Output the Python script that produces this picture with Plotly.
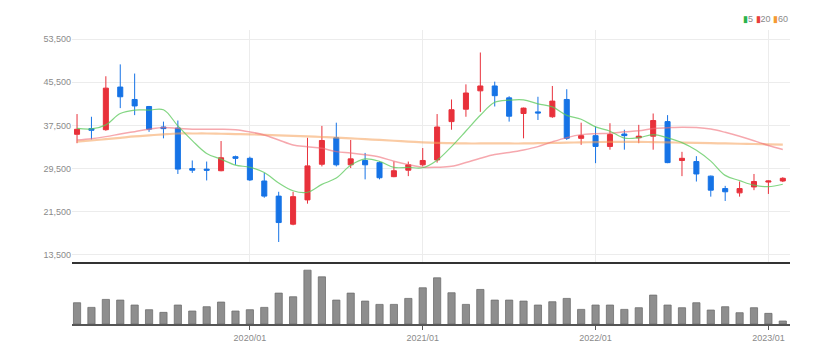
import plotly.graph_objects as go

months = ["2019/%02d" % m for m in range(1, 13)] + ["2020/%02d" % m for m in range(1, 13)] + \
         ["2021/%02d" % m for m in range(1, 13)] + ["2022/%02d" % m for m in range(1, 13)] + ["2023/01", "2023/02"]

opens = [35850, 36900, 36700, 44600, 42300, 41000, 37200, 37000, 29500, 29400, 29100, 31700,
         31400, 27200, 24400, 19200, 23700, 30300, 35200, 30200, 31000, 30600, 28000, 29200,
         30200, 31100, 38200, 40500, 43900, 44800, 42600, 39700, 40000, 39100, 42300, 35100,
         35600, 33600, 35900, 35200, 35500, 38200, 31000, 30800, 28100, 25800, 25000, 26100,
         27000, 27200]
highs = [39600, 39100, 46600, 48800, 47100, 41100, 38200, 38400, 31000, 30800, 34600, 31900,
         31700, 28700, 25200, 25200, 35200, 37400, 38000, 34800, 32400, 30800, 30800, 30800,
         33300, 39600, 42300, 45100, 51000, 45600, 42900, 40800, 42800, 44800, 44200, 38000,
         37300, 37900, 36700, 37600, 39700, 39400, 32600, 31800, 28200, 26300, 27100, 28500,
         27300, 27900]
lows = [34200, 34900, 36500, 40700, 39400, 36300, 35100, 28500, 28700, 27300, 29000, 30200,
        27200, 24100, 15900, 19000, 23000, 29900, 29900, 29600, 27500, 27500, 27900, 28100,
        29900, 30600, 36700, 39100, 40000, 41000, 38200, 35100, 38500, 38900, 34800, 33900,
        30500, 33000, 33000, 34200, 33000, 30500, 28100, 27100, 24300, 23500, 24300, 25500,
        24800, 27000]
closes = [36780, 36600, 44400, 42800, 41100, 36800, 36900, 29400, 29200, 29200, 31500, 31400,
          27400, 24400, 19500, 24300, 30000, 34700, 30200, 31300, 30200, 27800, 29100, 30200,
          31000, 37200, 40400, 43500, 44800, 43000, 39200, 40700, 39800, 42000, 35100, 35600,
          33600, 35800, 35600, 35500, 38400, 30600, 31400, 28500, 25500, 25200, 25800, 27100,
          27200, 27700]

ma5 = [36960, 36840, 37600, 39700, 40340, 40340, 40400, 37400, 34680, 32300, 31240, 30140,
       29740, 28780, 26840, 25400, 25120, 26580, 27740, 30100, 31280, 30840, 29720, 29720,
       29660, 31060, 33580, 36460, 39380, 41780, 42180, 42240, 41500, 40940, 39360, 38640,
       37220, 36420, 35140, 35220, 35780, 35180, 34300, 32880, 30880, 28240, 27280, 26420,
       26160, 26600]
ma20 = [34800, 35040, 35420, 35900, 36340, 36780, 37090, 36960, 36800, 36800, 36800, 36700,
        36300, 35730, 34800, 33870, 33560, 33250, 32640, 32390, 32070, 31630, 30860, 30230,
        29730, 29750, 29920, 30630, 31410, 32100, 32480, 32950, 33570, 34450, 35230, 35790,
        35970, 36030, 36300, 36510, 36920, 37060, 37170, 37090, 36810, 36210, 35480, 34660,
        33780, 33020]
ma60 = [34480, 34700, 34950, 35200, 35450, 35650, 35850, 36000, 36000, 36000, 35950, 35900,
        35850, 35750, 35650, 35550, 35450, 35350, 35250, 35100, 34950, 34800, 34650, 34500,
        34350, 34250, 34200, 34150, 34150, 34150, 34150, 34150, 34200, 34250, 34300, 34350,
        34400, 34450, 34450, 34450, 34400, 34350, 34300, 34250, 34200, 34150, 34100, 34050,
        34000, 33950]

volumes = [640, 500, 740, 720, 570, 430, 350, 570, 390, 520, 660, 390,
           430, 500, 930, 820, 1620, 1420, 720, 930, 690, 590, 590, 770,
           1090, 1390, 940, 590, 1040, 720, 720, 690, 570, 670, 770, 440,
           570, 570, 440, 490, 870, 570, 490, 640, 420, 520, 340, 490,
           320, 90]

price_ticks = [13500, 21500, 29500, 37500, 45500, 53500]
year_labels = ["2020/01", "2021/01", "2022/01", "2023/01"]
ma_names = ["5", "20", "60"]
ma_legend_colors = ["#2bb34a", "#e8403a", "#f59a32"]

x = list(range(len(months)))
year_pos = [months.index(lbl) for lbl in year_labels]

FONT = "Liberation Sans Narrow, Arial Narrow, Liberation Sans, sans-serif"

fig = go.Figure()

fig.add_trace(go.Scatter(x=x, y=ma60, mode="lines", line=dict(color="rgba(245,160,90,0.55)", width=2.2, shape="spline"),
                         hoverinfo="skip", showlegend=False, xaxis="x", yaxis="y"))
fig.add_trace(go.Scatter(x=x, y=ma20, mode="lines", line=dict(color="rgba(240,110,120,0.6)", width=1.5, shape="spline"),
                         hoverinfo="skip", showlegend=False, xaxis="x", yaxis="y"))
fig.add_trace(go.Scatter(x=x, y=ma5, mode="lines", line=dict(color="rgba(90,200,90,0.75)", width=1.2, shape="spline"),
                         hoverinfo="skip", showlegend=False, xaxis="x", yaxis="y"))

fig.add_trace(go.Candlestick(
    x=x, open=opens, high=highs, low=lows, close=closes,
    increasing=dict(line=dict(color="#e8313b", width=1), fillcolor="#e8313b"),
    decreasing=dict(line=dict(color="#1673e6", width=1), fillcolor="#1673e6"),
    whiskerwidth=0, showlegend=False, xaxis="x", yaxis="y"))

fig.add_trace(go.Bar(x=x, y=volumes, marker=dict(color="#8e8e8e", line=dict(color="#6f6f6f", width=0.8)),
                     width=0.5, showlegend=False, xaxis="x2", yaxis="y2"))

fig.update_layout(
    width=838, height=364,
    margin=dict(l=64, r=56, t=22, b=48),
    paper_bgcolor="white", plot_bgcolor="white",
    boxgap=0.5,
    font=dict(family=FONT, size=9, color="#8a8a8a"),
    xaxis=dict(domain=[0, 1], range=[-0.35, 49.5], anchor="y",
               tickvals=year_pos, showticklabels=False, showgrid=True, gridcolor="#ececec", gridwidth=1,
               showline=True, linecolor="#333333", linewidth=2, mirror=False,
               zeroline=False, rangeslider=dict(visible=False), fixedrange=True),
    yaxis=dict(domain=[0.211, 1], range=[12200, 55170], tickvals=price_ticks, tickformat=",",
               showgrid=True, gridcolor="#ececec", gridwidth=1, zeroline=False,
               ticks="", tickfont=dict(size=9, color="#8a8a8a"), automargin=False),
    xaxis2=dict(domain=[0, 1], range=[-0.35, 49.5], anchor="y2", matches="x",
                tickvals=year_pos, ticktext=year_labels, showgrid=False,
                showline=True, linecolor="#555555", linewidth=2,
                ticks="outside", ticklen=4, tickcolor="#555555", tickwidth=1,
                tickfont=dict(size=9, color="#8a8a8a"), zeroline=False, automargin=False),
    yaxis2=dict(domain=[0, 0.2], range=[0, 1770], showticklabels=False, showgrid=False, zeroline=False),
)

legend_text = " ".join("<span style='color:%s'>▮</span>%s" % (c, n) for c, n in zip(ma_legend_colors, ma_names))
fig.add_annotation(xref="paper", yref="paper", x=1.0, y=1.0, xanchor="right", yanchor="bottom",
                   yshift=4, text=legend_text, showarrow=False,
                   font=dict(family=FONT, size=9, color="#8a8a8a"))

fig.write_html("out.html")
